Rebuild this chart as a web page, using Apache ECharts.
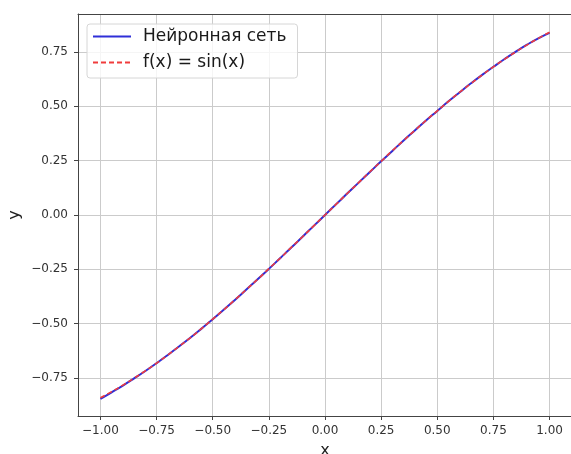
<!DOCTYPE html>
<html>
<head>
<meta charset="utf-8">
<script src="https://cdn.jsdelivr.net/npm/echarts@6/dist/echarts.min.js"></script>
<style>
  html, body { margin: 0; padding: 0; background: #fff; }
  #main { width: 571px; height: 454px; }
</style>
</head>
<body>
<div id="main"></div>
<script>
// значения x
var xs = [-1.00, -0.95, -0.90, -0.85, -0.80, -0.75, -0.70, -0.65, -0.60, -0.55, -0.50,
          -0.45, -0.40, -0.35, -0.30, -0.25, -0.20, -0.15, -0.10, -0.05, 0.00,
           0.05, 0.10, 0.15, 0.20, 0.25, 0.30, 0.35, 0.40, 0.45, 0.50,
           0.55, 0.60, 0.65, 0.70, 0.75, 0.80, 0.85, 0.90, 0.95, 1.00];
// выход нейронной сети
var netY = [-0.846, -0.816, -0.785, -0.752, -0.718, -0.682, -0.644, -0.605, -0.565, -0.523, -0.480,
            -0.435, -0.390, -0.343, -0.296, -0.248, -0.199, -0.150, -0.100, -0.050, 0.000,
             0.050, 0.100, 0.149, 0.198, 0.247, 0.295, 0.343, 0.389, 0.435, 0.479,
             0.523, 0.565, 0.606, 0.645, 0.682, 0.718, 0.752, 0.784, 0.813, 0.838];
// f(x) = sin(x)
var sinY = [-0.841, -0.813, -0.783, -0.751, -0.717, -0.682, -0.644, -0.605, -0.565, -0.523, -0.479,
            -0.435, -0.389, -0.343, -0.296, -0.247, -0.199, -0.149, -0.100, -0.050, 0.000,
             0.050, 0.100, 0.149, 0.199, 0.247, 0.296, 0.343, 0.389, 0.435, 0.479,
             0.523, 0.565, 0.605, 0.644, 0.682, 0.717, 0.751, 0.783, 0.813, 0.841];
var xTicks = [-1.00, -0.75, -0.50, -0.25, 0.00, 0.25, 0.50, 0.75, 1.00];
var yTicks = [-0.75, -0.50, -0.25, 0.00, 0.25, 0.50, 0.75];

function pairs(ys) {
    var out = [];
    for (var i = 0; i < xs.length; i++) out.push([xs[i], ys[i]]);
    return out;
}
function fmt(v) {
    return (v < 0 ? '\u2212' : '') + Math.abs(v).toFixed(2);
}

var font = 'DejaVu Sans';
var chart = echarts.init(document.getElementById('main'));
var option = {
    animation: false,
    textStyle: { fontFamily: font },
    grid: { left: 78, top: 14, width: 494, bottom: 38, outerBoundsMode: 'none', containLabel: false },
    legend: {
        orient: 'vertical',
        left: 87,
        top: 24,
        padding: [4, 11, 7, 5],
        itemGap: 9,
        itemWidth: 38,
        itemHeight: 10,
        itemStyle: { opacity: 0 },
        backgroundColor: 'rgba(255,255,255,0.8)',
        borderColor: '#d6d6d6',
        borderWidth: 1,
        borderRadius: 3,
        textStyle: { fontFamily: font, fontSize: 17, color: '#1a1a1a', padding: [0, 0, 0, 7] },
        data: ['Нейронная сеть', 'f(x) = sin(x)']
    },
    xAxis: [{
        type: 'value',
        min: -1.1,
        max: 1.1,
        name: 'x',
        nameLocation: 'middle',
        nameGap: 27,
        nameMoveOverlap: false,
        nameTextStyle: { fontFamily: font, fontSize: 16, color: '#222' },
        axisLine: { show: true, onZero: false, lineStyle: { color: '#444', width: 1 } },
        axisTick: { show: true, inside: false, length: 4, customValues: xTicks, lineStyle: { color: '#444' } },
        axisLabel: { customValues: xTicks, margin: 9, fontFamily: font, fontSize: 12, color: '#333', formatter: fmt },
        splitLine: { show: true, lineStyle: { color: '#cbcbcb', width: 1 } }
    }, {
        // верхняя рамка
        type: 'value',
        position: 'top',
        min: -1.1,
        max: 1.1,
        axisLine: { show: true, onZero: false, lineStyle: { color: '#444', width: 1 } },
        axisTick: { show: false },
        axisLabel: { show: false },
        splitLine: { show: false }
    }],
    yAxis: {
        type: 'value',
        min: -0.925,
        max: 0.925,
        name: 'y',
        nameLocation: 'middle',
        nameGap: 55,
        nameMoveOverlap: false,
        nameTextStyle: { fontFamily: font, fontSize: 16, color: '#222' },
        axisLine: { show: true, onZero: false, lineStyle: { color: '#444', width: 1 } },
        axisTick: { show: true, inside: false, length: 4, customValues: yTicks, lineStyle: { color: '#444' } },
        axisLabel: { customValues: yTicks, margin: 10, fontFamily: font, fontSize: 12, color: '#333', formatter: fmt },
        splitLine: { show: true, lineStyle: { color: '#cbcbcb', width: 1 } }
    },
    series: [
        {
            name: 'Нейронная сеть',
            type: 'line',
            showSymbol: false,
            symbol: 'none',
            smooth: true,
            data: pairs(netY),
            lineStyle: { color: '#2f2fd8', width: 2 },
            itemStyle: { color: '#2f2fd8' }
        },
        {
            name: 'f(x) = sin(x)',
            type: 'line',
            showSymbol: false,
            symbol: 'none',
            smooth: true,
            data: pairs(sinY),
            lineStyle: { color: '#f03c3c', width: 1.6, type: [5, 3] },
            itemStyle: { color: '#f03c3c' }
        }
    ]
};
chart.setOption(option);
</script>
</body>
</html>
